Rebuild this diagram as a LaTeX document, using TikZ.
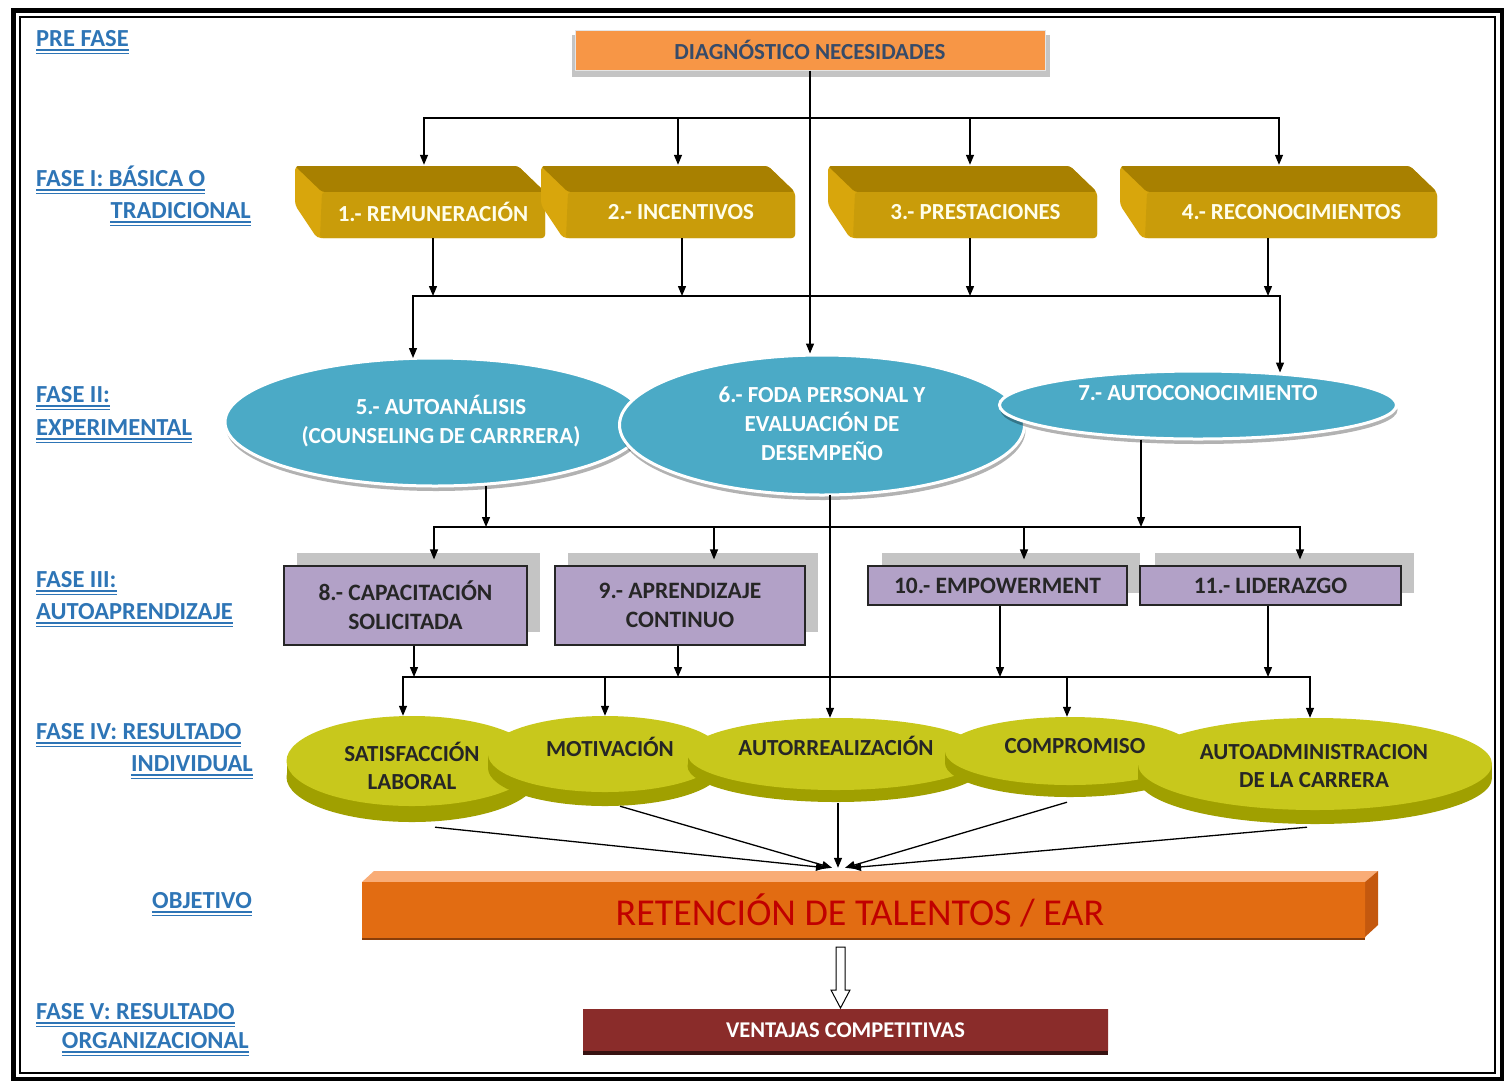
\documentclass[tikz,border=0pt]{standalone}
\usepackage{fontspec}
\setmainfont{Carlito}
\usetikzlibrary{arrows.meta,shapes.geometric,calc,shadows}
\definecolor{lblue}{RGB}{46,117,182}
\definecolor{diagor}{RGB}{247,150,70}
\definecolor{diagtxt}{RGB}{55,75,105}
\definecolor{goldtop}{RGB}{168,128,0}
\definecolor{goldleft}{RGB}{216,166,12}
\definecolor{goldfront}{RGB}{201,156,10}
\definecolor{ellblue}{RGB}{75,170,198}
\definecolor{purp}{RGB}{178,161,199}
\definecolor{shad}{RGB}{196,196,196}
\definecolor{yeltop}{RGB}{200,200,28}
\definecolor{yelrim}{RGB}{160,160,0}
\definecolor{orA}{RGB}{226,108,18}
\definecolor{orB}{RGB}{240,132,46}
\definecolor{ortop}{RGB}{249,172,118}
\definecolor{orside}{RGB}{196,88,14}
\definecolor{rettxt}{RGB}{192,0,0}
\definecolor{ventA}{RGB}{138,44,42}
\definecolor{ventB}{RGB}{190,88,86}
\newcommand\phase[4]{%
  \node[lbl, anchor=base #4] (#1) at (#2) {#3};
  \draw[ul] ([yshift=-4pt]#1.base west) -- ([yshift=-4pt]#1.base east);
  \draw[ul] ([yshift=-7.5pt]#1.base west) -- ([yshift=-7.5pt]#1.base east);}
\newcommand\goldbox[4]{%
  \fill[goldleft, rounded corners=4pt] (#2,166) -- (#3-27,166) -- (#3,192) -- (#3,238) -- (#2+22,238) -- (#2,205) -- cycle;
  \fill[goldtop, rounded corners=3pt] (#2,166) -- (#3-27,166) -- (#3,192) -- (#2+27,192) -- cycle;
  \fill[goldfront, rounded corners=3pt] (#2+27,192) -- (#3,192) -- (#3,238) -- (#2+25,238) -- cycle;
  \node[gboxnode, minimum width=#3-#2] (#1) at ({(#2+#3)/2},201.5) {};
  \node[gtext] (#1t) at ({(#2+#3)/2+13},212) {#4};}
\newcommand\disc[6]{%
  \fill[yelrim] (#2,#3+#6) ellipse [x radius=0.5*#4pt, y radius=0.5*#5pt];
  \fill[yelrim] (#2-0.5*#4,#3) rectangle (#2+0.5*#4,#3+#6);
  \node[discnode, minimum width=#4, minimum height=#5] (#1) at (#2,#3) {};}
\newcommand\vdrop[2]{\path #1 coordinate (tmp); \draw[arr] (tmp) -- (tmp |- #2);}
\begin{document}
\begin{tikzpicture}[x=1pt,y=-1pt,
  arr/.style={line width=1.3pt, -{Triangle[length=10pt,width=8pt]}},
  lbl/.style={text=lblue, font=\fontsize{24.5}{28}\selectfont\bfseries, inner sep=0pt},
  ul/.style={draw=lblue, line width=1.2pt},
  gboxnode/.style={rectangle, minimum height=73, inner sep=0pt},
  gtext/.style={text=white!92!yellow, font=\fontsize{23}{26}\selectfont\bfseries, inner sep=0pt},
  ellnode/.style={ellipse, fill=ellblue, draw=white, line width=3pt, inner sep=0pt,
     drop shadow={shadow xshift=1pt, shadow yshift=-5pt, fill=black, opacity=0.3}},
  etext/.style={text=white, font=\fontsize{23}{29}\selectfont\bfseries, align=center, inner sep=0pt},
  pbox/.style={rectangle, fill=purp, draw=black!85, line width=1.2pt, inner sep=0pt,
     font=\fontsize{23.5}{29}\selectfont\bfseries, text=black!85, align=center},
  discnode/.style={ellipse, fill=yeltop, inner sep=0pt},
  dtext/.style={text=black!85, font=\fontsize{23}{28}\selectfont\bfseries, align=center, inner sep=0pt}]
\useasboundingbox (0,0) rectangle (1504,1080);
\fill[white] (0,0) rectangle (1504,1080);
% frame
\draw[line width=5pt] (13,10.5) rectangle (1502,1079.5);
\draw[line width=1.2pt] (20,17) rectangle (1495,1073);
% phase labels
\phase{lp0}{36,46}{PRE FASE}{west}
\phase{lp1a}{36,186}{FASE I: BÁSICA O}{west}
\phase{lp1b}{251,218}{TRADICIONAL}{east}
\phase{lp2a}{36,402}{FASE II:}{west}
\phase{lp2b}{36,435}{EXPERIMENTAL}{west}
\phase{lp3a}{36,587}{FASE III:}{west}
\phase{lp3b}{36,619}{AUTOAPRENDIZAJE}{west}
\phase{lp4a}{36,739}{FASE IV: RESULTADO}{west}
\phase{lp4b}{253,771}{INDIVIDUAL}{east}
\phase{lp5}{252,908}{OBJETIVO}{east}
\phase{lp6a}{36,1019}{FASE V: RESULTADO}{west}
\phase{lp6b}{249,1048}{ORGANIZACIONAL}{east}
% diagnostico
\fill[shad] (572,35) rectangle (1050,77);
\node[rectangle, fill=diagor, draw=white!80!gray, line width=1pt, minimum width=470, minimum height=40,
  text=diagtxt, font=\fontsize{23}{26}\selectfont\bfseries] (diag) at (810,50) {DIAGNÓSTICO NECESIDADES};
% fase I
\goldbox{b1}{295}{545}{1.- REMUNERACIÓN}
\goldbox{b2}{541}{795}{2.- INCENTIVOS}
\goldbox{b3}{828}{1097}{3.- PRESTACIONES}
\goldbox{b4}{1120}{1437}{4.- RECONOCIMIENTOS}
% fase II
\node[ellnode, minimum width=420, minimum height=128] (e5) at (435,422) {};
\node[ellnode, minimum width=405, minimum height=140] (e6) at (822,425) {};
\node[ellnode, minimum width=397, minimum height=68] (e7) at (1198,405) {};
\node[etext] (e5t) at (441,421) {5.- AUTOANÁLISIS\\(COUNSELING DE CARRRERA)};
\node[etext] (e6t) at (822,424) {6.- FODA PERSONAL Y\\EVALUACIÓN DE\\DESEMPEÑO};
\node[etext] (e7t) at (1198,393) {7.- AUTOCONOCIMIENTO};
% fase III
\fill[shad] (297,553) rectangle (540,632);
\fill[shad] (568,553) rectangle (818,632);
\fill[shad] (882,553) rectangle (1140,593);
\fill[shad] (1155,553) rectangle (1414,593);
\node[pbox, minimum width=243, minimum height=79] (p8) at (405.5,605.5) {8.- CAPACITACIÓN\\SOLICITADA};
\node[pbox, minimum width=250, minimum height=79] (p9) at (680,605.5) {9.- APRENDIZAJE\\CONTINUO};
\node[pbox, minimum width=259, minimum height=39] (p10) at (997.5,585.5) {10.- EMPOWERMENT};
\node[pbox, minimum width=261, minimum height=39] (p11) at (1270.5,585.5) {11.- LIDERAZGO};
% fase IV
\disc{d1}{412}{761}{251}{90}{16}
\disc{d2}{605}{754}{234}{76}{14}
\disc{d3}{836}{754}{297}{72}{12}
\disc{d4}{1070}{751}{250}{68}{12}
\disc{d5}{1315}{764}{354}{92}{14}
\node[dtext] (d1t) at (412,766) {SATISFACCIÓN\\LABORAL};
\node[dtext] (d2t) at (610,747) {MOTIVACIÓN};
\node[dtext] (d3t) at (836,746) {AUTORREALIZACIÓN};
\node[dtext] (d4t) at (1075,746) {COMPROMISO};
\node[dtext] (d5t) at (1314,766) {AUTOADMINISTRACION\\DE LA CARRERA};
% objetivo
\fill[ortop] (362,882) -- (374,871) -- (1378,871) -- (1365,882) -- cycle;
\fill[orside] (1365,882) -- (1378,871) -- (1378,925) -- (1365,937) -- cycle;
\fill[black!30!orside] (362,936) rectangle (1365,940);
\node[rectangle, minimum width=1003, minimum height=55, inner sep=0pt, left color=orA, middle color=orB, right color=orA] (ret) at (863.5,909.5) {};
\node[text=rettxt, font=\fontsize{38}{42}\selectfont, inner sep=0pt] (rett) at (860,910) {RETENCIÓN DE TALENTOS / EAR};
% fase V
\fill[black!60!ventA] (583,1048) rectangle (1108,1055);
\node[rectangle, minimum width=525, minimum height=41, inner sep=0pt, left color=ventA, middle color=ventB, right color=ventA,
  text=white, font=\fontsize{22.5}{25}\selectfont\bfseries] (vent) at (845.5,1030) {VENTAJAS COMPETITIVAS};
% hollow arrow
\draw[line width=1pt, fill=white] (836,947) -- (845,947) -- (845,990) -- (850,990) -- (840.5,1008) -- (831,990) -- (836,990) -- cycle;
% connectors
\coordinate (j1) at (810,118);
\coordinate (j2) at (810,296);
\coordinate (j3) at (830,527);
\coordinate (j4) at (830,677);
\draw[arr] (diag.south) -- (diag.south |- e6.north);
\draw[arr] (j1) -| ($(b1.north)+(4,0)$);
\draw[arr] (j1) -| ($(b2.north)+(10,0)$);
\draw[arr] (j1) -| ($(b3.north)+(7.5,0)$);
\draw[arr] (j1) -| ($(b4.north)+(0.5,0)$);
\vdrop{($(b1.south)+(13,0)$)}{j2}
\vdrop{($(b2.south)+(14,0)$)}{j2}
\vdrop{($(b3.south)+(7.5,0)$)}{j2}
\vdrop{($(b4.south)+(-10.5,0)$)}{j2}
\draw[arr] (j2) -| ($(e5.north)+(-22,1.5)$);
\draw[arr] (j2) -| ($(e7.north)+(82,3)$);
\vdrop{($(e5.south)+(51,-2)$)}{j3}
\vdrop{($(e7.south)+(-57,-1)$)}{j3}
\draw[arr] (j3) -| ($(p8.north)+(28.5,-6)$);
\draw[arr] (j3) -| ($(p9.north)+(34,-6)$);
\draw[arr] (j3) -| ($(p10.north)+(26.5,-6)$);
\draw[arr] (j3) -| ($(p11.north)+(29.5,-6)$);
\vdrop{($(e6.south)+(8,-2)$)}{d3.north}
\vdrop{($(p8.south)+(8.5,0)$)}{j4}
\vdrop{($(p9.south)+(-2,0)$)}{j4}
\vdrop{($(p10.south)+(2.5,0)$)}{j4}
\vdrop{($(p11.south)+(-2.5,0)$)}{j4}
\draw[arr] (j4) -| ($(d1.north)+(-9,0)$);
\draw[arr] (j4) -| (d2.north);
\draw[arr] (j4) -| ($(d4.north)+(-3,0)$);
\draw[arr] (j4) -| ($(d5.north)+(-5,0)$);
\draw[arr] ($(d1.south)+(23,21)$) -- ($(ret.north)+(-37.5,-14)$);
\draw[arr] ($(d2.south)+(15,14)$) -- ($(ret.north)+(-31.5,-14)$);
\draw[arr] ($(d3.south)+(2,13)$) -- ($(ret.north)+(-25.5,-14)$);
\draw[arr] ($(d4.south)+(-3,17)$) -- ($(ret.north)+(-18.5,-14)$);
\draw[arr] ($(d5.south)+(-8,17)$) -- ($(ret.north)+(-12.5,-14)$);
\end{tikzpicture}
\end{document}
